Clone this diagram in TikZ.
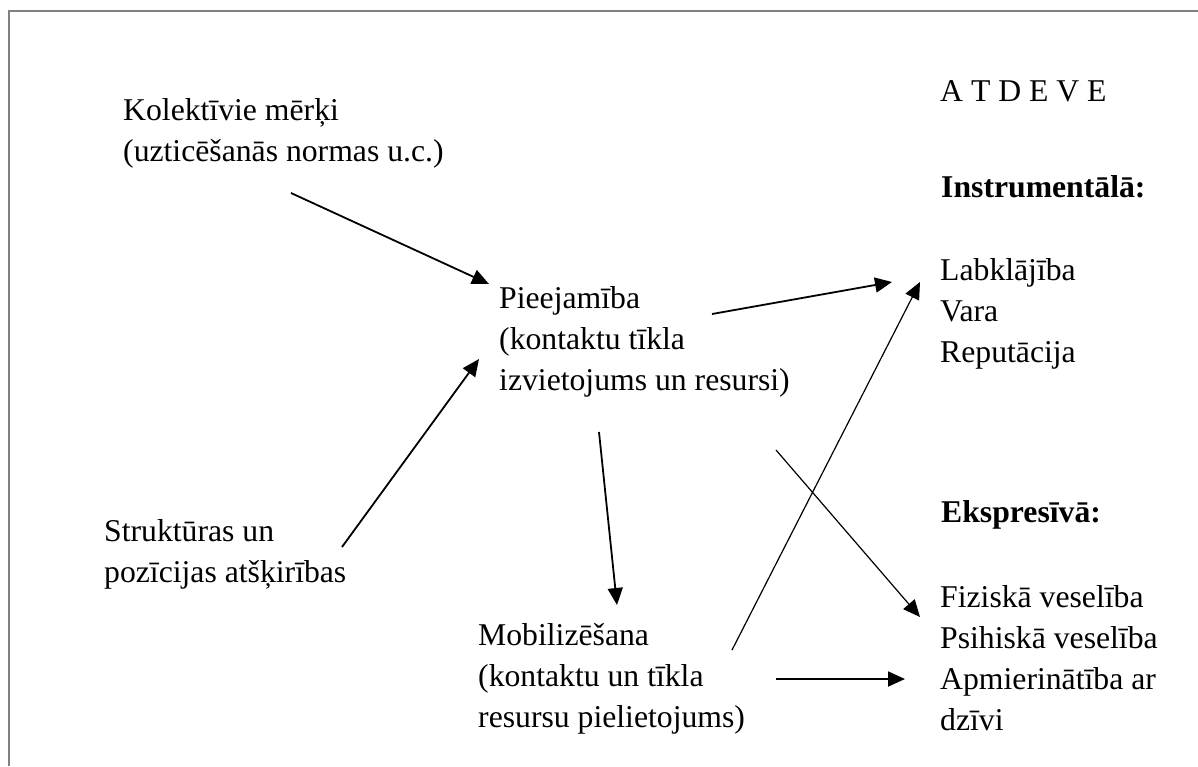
\documentclass[tikz,border=0pt]{standalone}
\usepackage{fontspec}
\setmainfont{Liberation Serif}
\usetikzlibrary{arrows.meta}
\newcommand{\tstr}{\rule{0pt}{23pt}}
\begin{document}
\begin{tikzpicture}[x=1pt,y=-1pt,
  txt/.style={anchor=north west, inner sep=0pt, align=left, font=\fontsize{31.7}{41}\selectfont},
  btxt/.style={txt, font=\fontsize{31.7}{41}\selectfont\bfseries},
  arr/.style={-{Triangle[length=17pt,width=15pt]}, line width=1.8pt},
  tarr/.style={arr, line width=1.2pt},
  frame/.style={line width=2pt, draw=gray}]
\useasboundingbox (0,0) rectangle (1198,766);
\draw[frame] (9,766) -- (9,11) -- (1198,11);

\node[txt] (kol) at (123,97) {\tstr Kolektīvie mērķi\\(uzticēšanās normas u.c.)};
\node[txt] (pie) at (499,285) {\tstr Pieejamība\\(kontaktu tīkla\\izvietojums un resursi)};
\node[txt] (str) at (104,518) {\tstr Struktūras un\\pozīcijas atšķirības};
\node[txt] (mob) at (478,622) {\tstr Mobilizēšana\\(kontaktu un tīkla\\resursu pielietojums)};
\node[txt] (atd) at (940,78) {\tstr A T D E V E};
\node[btxt] (ins) at (941,174) {\tstr Instrumentālā:};
\node[txt] (lab) at (940,257) {\tstr Labklājība\\Vara\\Reputācija};
\node[btxt] (eks) at (941,499) {\tstr Ekspresīvā:};
\node[txt] (fiz) at (940,584) {\tstr Fiziskā veselība\\Psihiskā veselība\\Apmierinātība ar\\dzīvi};

\coordinate (k1) at (291,193); \coordinate (k2) at (489,284);
\coordinate (s1) at (342,547); \coordinate (s2) at (479,359);
\coordinate (p1) at (712,314); \coordinate (p2) at (892,282);
\coordinate (m1) at (732,650); \coordinate (m2) at (920,282);
\coordinate (p3) at (776,450); \coordinate (p4) at (920,617);
\coordinate (p5) at (599,432); \coordinate (p6) at (617,605);
\coordinate (m3) at (776,679); \coordinate (m4) at (905,679);

\draw[arr] (k1) -- (k2);
\draw[arr] (s1) -- (s2);
\draw[arr] (p1) -- (p2);
\draw[tarr] (m1) -- (m2);
\draw[tarr] (p3) -- (p4);
\draw[arr] (p5) -- (p6);
\draw[arr] (m3) -- (m4);
\end{tikzpicture}
\end{document}
